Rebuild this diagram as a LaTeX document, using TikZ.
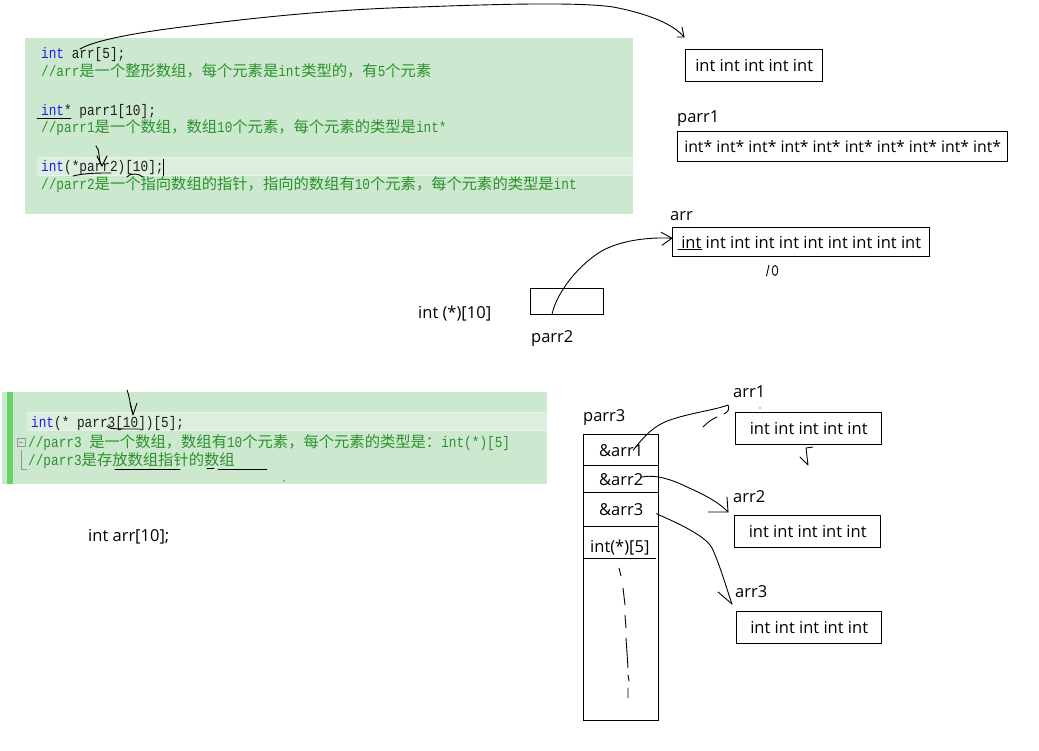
\documentclass[tikz,border=0pt]{standalone}
\usepackage{fontspec}
\setmainfont{Open Sans}
\newfontfamily\codefont[FakeStretch=0.833]{Liberation Mono}
\newfontfamily\cjk{Noto Sans CJK SC}
\usetikzlibrary{calc}
\definecolor{codebg}{RGB}{204,232,207}
\definecolor{bandbg}{RGB}{220,238,222}
\definecolor{bandline}{RGB}{236,243,236}
\definecolor{barg}{RGB}{104,212,104}
\definecolor{kwblue}{RGB}{30,30,235}
\definecolor{ident}{RGB}{30,30,30}
\definecolor{cmtgreen}{RGB}{45,145,45}
\definecolor{treegray}{RGB}{150,150,150}
\newcommand\kw[1]{\textcolor{kwblue}{#1}}
\begin{document}
\begin{tikzpicture}[x=1pt,y=-1pt,
  hand/.style={line width=0.9pt, line cap=round, line join=round},
  box/.style={draw, line width=1.4pt, inner sep=0pt, anchor=north west, font=\fontsize{16.5}{20}\selectfont},
  lbl/.style={anchor=base west, inner sep=0pt, font=\fontsize{16.5}{20}\selectfont},
  code/.style={anchor=base west, inner sep=0pt, font=\codefont\fontsize{15.3}{18}\selectfont, text=ident},
  cmt/.style={code, text=cmtgreen}]
\useasboundingbox[fill=white] (0,0) rectangle (1039,751);

% ---------- code block 1 ----------
\fill[codebg] (25,38) rectangle (633,214);
\fill[bandbg] (37,157) rectangle (633,176);
\draw[bandline, line width=1.2pt] (37,157.6) -- (633,157.6) (37,175.4) -- (633,175.4);
\node[code] (l1) at (41,59) {\kw{int} arr[5];};
\node[cmt] (k1) at (41,77) {//arr{\cjk 是一个整形数组，每个元素是}int{\cjk 类型的，有}5{\cjk 个元素}};
\node[code] (l2) at (41,116) {\kw{int}* parr1[10];};
\node[cmt] (k2) at (41,133) {//parr1{\cjk 是一个数组，数组}10{\cjk 个元素，每个元素的类型是}int*};
\node[code] (l3) at (41,172) {\kw{int}(*parr2)[10];};
\draw[line width=1pt] (163.5,159) -- (163.5,176);
\node[cmt] (k3) at (41,190) {//parr2{\cjk 是一个指向数组的指针，指向的数组有}10{\cjk 个元素，每个元素的类型是}int};

% hand marks on block 1
\draw[hand] (37,118) -- (71,118);
\draw[hand] (96,146) .. controls (101,151) and (97,158) .. (102,166);
\draw[hand] (97,156) -- (102,166) -- (107,156);
\draw[hand] (73,176) .. controls (85,173) and (98,173) .. (111,173);
\draw[hand] (127,177) .. controls (130,173) and (138,173) .. (143,177);

% ---------- code block 2 ----------
\fill[codebg] (2,392) rectangle (547,484);
\fill[barg] (7,392) rectangle (13,484);
\fill[bandbg] (27,412) rectangle (547,431);
\draw[bandline, line width=1.2pt] (27,412.6) -- (547,412.6) (27,430.4) -- (547,430.4);
\node[code] (m1) at (31,427) {\kw{int}(* parr3[10])[5];};
\draw[treegray, line width=0.7pt] (17,438) rectangle (25,446) (19,442) -- (23,442);
\draw[treegray, line width=0.7pt] (21,450) -- (21,469) -- (27,469);
\node[cmt] (n1) at (28,447) {//parr3 {\cjk 是一个数组，数组有}10{\cjk 个元素，每个元素的类型是：}int(*)[5]};
\node[cmt] (n2) at (28,465) {//parr3{\cjk 是存放数组指针的数组}};
\draw[hand] (127,390) .. controls (130,398) and (130,405) .. (133,414);
\draw[hand] (130,403) -- (133,415) -- (137,403);
\draw[hand] (107,426) .. controls (109,429) and (112,429) .. (140,429);
\draw[hand] (115,469) -- (180,469);
\draw[hand] (207,468) -- (214,468) (218,469) -- (267,469);
\fill (284,481) circle (0.7);

\node[lbl] (t3) at (88,541) {int arr[10];};

% ---------- right side, top ----------
\node[box, minimum width=137pt, minimum height=32pt] (a5) at (685,49) {int int int int int};
\node[lbl] (lp1) at (677,123) {parr1};
\node[box, minimum width=330pt, minimum height=30pt, font=\fontsize{15.8}{19}\selectfont] (p1) at (677,131) {int* int* int* int* int* int* int* int* int* int*};
\node[lbl] (la) at (670,221) {arr};
\node[box, minimum width=257pt, minimum height=29pt] (a10) at (672,227) {int int int int int int int int int int};
\draw[hand] (678,249) -- (702,249);
\draw[hand] (769,265) -- (766.5,276);
\draw[hand] (775,270.5) ellipse (2.8 and 5);
\node[box, minimum width=73pt, minimum height=26pt] (p2) at (530,288) {};
\node[lbl] (t2) at (418,319) {int (*)[10]};
\node[lbl] (lp2) at (531,342) {parr2};

% arc from arr[5] to the int box
\coordinate (arcS) at (80,49);
\coordinate (arcE) at ($(a5.north west)+(-1,-12)$);
\draw[hand] (arcS) .. controls (95,40) and (140,32) .. (190,26)
  .. controls (260,17) and (340,9) .. (420,7)
  .. controls (500,4) and (580,2) .. (613,7)
  .. controls (640,12) and (672,22) .. (arcE);
\draw[hand] ($(arcE)+(-2,-10)$) -- (arcE) -- ($(arcE)+(-7,0)$);

% parr2 -> arr
\coordinate (p2S) at ($(p2.south west)+(22,-1)$);
\coordinate (p2E) at ($(a10.west)+(0,-4)$);
\draw[hand] (p2S) .. controls (556,295) and (575,268) .. (600,252)
  .. controls (620,240) and (650,237) .. (p2E);
\draw[hand] ($(p2E)+(-11,-6)$) -- (p2E) -- ($(p2E)+(-10,7)$);

% ---------- right side, bottom ----------
\node[lbl] (lp3) at (583,421) {parr3};
\node[box, minimum width=75pt, minimum height=31pt, text height=12pt, text depth=0pt] (c1) at (583,434) {\&arr1};
\node[box, minimum width=75pt, minimum height=27pt, text height=12pt, text depth=0pt] (c2) at (583,465) {\&arr2};
\node[box, minimum width=75pt, minimum height=34pt, text height=12pt, text depth=0pt] (c3) at (583,492) {\&arr3};
\node[box, minimum width=75pt, minimum height=194pt] (c4) at (583,526) {};
\node[lbl] (c5) at (590,552) {int(*)[5]};
\draw[line width=1pt] (583,558) -- (656,558);
\draw[hand] (619,568) -- (621,576) (623,588) -- (625,605) (625,615) -- (626,628)
  (626,638) -- (628,668) (628,675) -- (629,681) (628,688) -- (628,698);

\node[lbl] (la1) at (733,397) {arr1};
\node[box, minimum width=146pt, minimum height=32pt] (b1) at (735,412) {int int int int int};
\node[lbl] (la2) at (733,502) {arr2};
\node[box, minimum width=146pt, minimum height=32pt] (b2) at (734,515) {int int int int int};
\node[lbl] (la3) at (735,597) {arr3};
\node[box, minimum width=145pt, minimum height=32pt] (b3) at (736,611) {int int int int int};
\fill (760,408) circle (0.6);
\draw[hand] (813,447) -- (806,448) -- (808,465) (800,457) -- (808,465);

% &arr1 -> arr1
\coordinate (q1S) at ($(c1.center)+(12,0)$);
\coordinate (q1E) at ($(la1.base west)+(-5,8)$);
\draw[hand] (q1S) .. controls (645,435) and (655,425) .. (670,420)
  .. controls (690,413) and (715,410) .. (q1E)
  .. controls ($(q1E)+(2,4)$) and ($(q1E)+(0,7)$) .. ($(q1E)+(-4,9)$);
\draw[hand] (703,427) .. controls (708,422) and (712,419) .. (717,417);

% &arr2 -> arr2
\coordinate (q2S) at ($(c2.center)+(20,-2)$);
\coordinate (q2E) at ($(b2.north west)+(-6,-3)$);
\draw[hand] (q2S) .. controls (650,475) and (665,476) .. (687,487)
  .. controls (705,495) and (720,503) .. (q2E);
\draw[hand] ($(q2E)+(-1,-15)$) -- (q2E) -- ($(q2E)+(-20,0)$);

% &arr3 -> arr3
\coordinate (q3S) at ($(c3.east)+(-3,4)$);
\coordinate (q3E) at ($(la3.base west)+(-3,7)$);
\draw[hand] (q3S) .. controls (675,522) and (705,535) .. (712,548)
  .. controls (720,565) and (727,590) .. (q3E);
\draw[hand] ($(q3E)+(-14,-12)$) -- (q3E);
\end{tikzpicture}
\end{document}
